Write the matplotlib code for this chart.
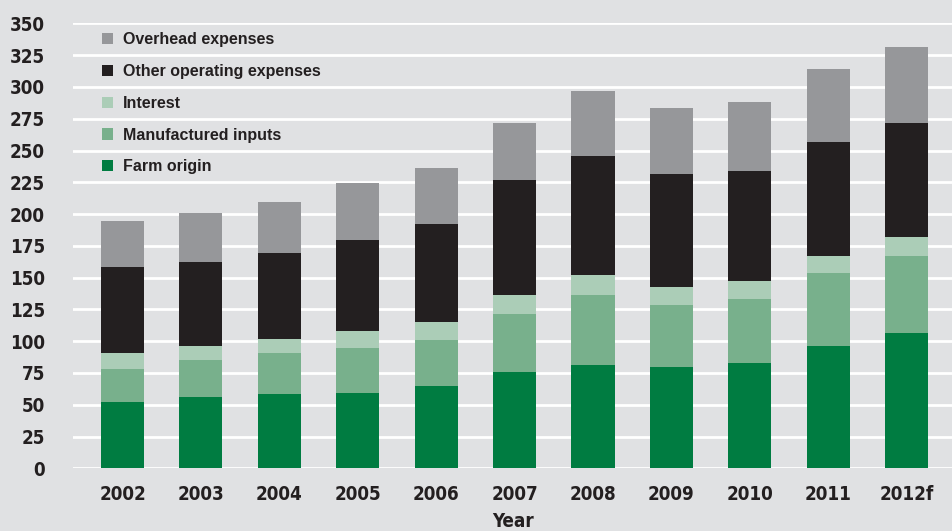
import matplotlib
matplotlib.use("Agg")
import matplotlib.pyplot as plt
import numpy as np
from matplotlib.patches import Patch

years = ["2002", "2003", "2004", "2005", "2006", "2007", "2008", "2009", "2010", "2011", "2012f"]
farm_origin = [52.1, 56.1, 58.4, 59.2, 64.7, 75.8, 81.3, 79.7, 82.9, 96.2, 106.4]
manufactured = [26.0, 29.1, 32.3, 35.4, 36.3, 45.5, 55.0, 48.8, 50.2, 57.4, 60.6]
interest = [12.6, 11.0, 11.0, 13.4, 14.3, 15.0, 15.7, 14.1, 14.2, 13.4, 14.9]
other_operating = [67.4, 65.8, 67.4, 71.6, 76.9, 90.4, 93.6, 88.9, 86.5, 89.6, 89.7]
overhead = [36.4, 38.8, 40.4, 44.8, 44.0, 45.3, 51.1, 51.9, 54.3, 57.5, 59.8]

series = [
    ("Farm origin", farm_origin, "#007c41"),
    ("Manufactured inputs", manufactured, "#78b08c"),
    ("Interest", interest, "#abcdb7"),
    ("Other operating expenses", other_operating, "#231f20"),
    ("Overhead expenses", overhead, "#96979a"),
]

BG = "#e0e1e3"
TXT = "#231f20"

fig = plt.figure(figsize=(9.53, 5.31), dpi=100, facecolor=BG)
ax = fig.add_axes([0.0763, 0.118, 1 - 0.0763, 0.838])
ax.set_facecolor(BG)

x = np.arange(len(years))
bottom = np.zeros(len(years))
for name, vals, col in series:
    ax.bar(x, vals, 0.55, bottom=bottom, color=col, zorder=3, linewidth=0)
    bottom += np.array(vals)

ax.set_xlim(-0.635, 10.59)
ax.set_ylim(0, 350)
ax.set_yticks(np.arange(0, 351, 25))
ax.set_xticks(x)
ax.set_xticklabels(years)
ax.grid(axis="y", color="white", linewidth=2, zorder=0)
ax.set_axisbelow(True)
for s in ax.spines.values():
    s.set_visible(False)
ax.tick_params(length=0)
ax.tick_params(axis="y", pad=20)
ax.tick_params(axis="x", pad=12)
for lab in ax.get_yticklabels() + ax.get_xticklabels():
    lab.set_family("DejaVu Sans")
    lab.set_stretch("condensed")
    lab.set_fontweight("bold")
    lab.set_fontsize(13.5)
    lab.set_color(TXT)

ax.set_xlabel("Year", family="DejaVu Sans", stretch="condensed", fontweight="bold",
              fontsize=13.5, color=TXT, labelpad=6)

handles = [Patch(facecolor=c, edgecolor="none") for _, _, c in series[::-1]]
labels = [n for n, _, _ in series[::-1]]
leg = ax.legend(handles, labels, loc="upper left", bbox_to_anchor=(0.033, 0.98),
                frameon=False, borderaxespad=0, borderpad=0,
                handlelength=0.7, handleheight=0.7, handletextpad=0.62,
                labelspacing=1.05, prop={"family": "Liberation Sans", "weight": "bold", "size": 11.5})
for t in leg.get_texts():
    t.set_color(TXT)

fig.savefig("out.png", dpi=100, facecolor=BG)
